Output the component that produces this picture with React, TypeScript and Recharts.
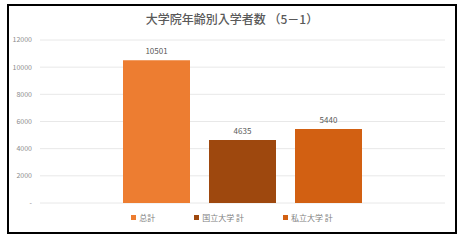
import React from "react"
import { BarChart, Bar, XAxis, YAxis, CartesianGrid, Legend, LabelList } from "recharts"

const categories = ["大学院"]
const seriesNames = ["总計", "国立大学 計", "私立大学 計"]
const seriesValues = [10501, 4635, 5440]
const seriesColors = ["#ED7D31", "#9E480E", "#D26012"]
const yTicks = [0, 2000, 4000, 6000, 8000, 10000, 12000]

const data = categories.map((name) => {
  const row: Record<string, any> = { name }
  seriesNames.forEach((s, i) => {
    row[s] = seriesValues[i]
  })
  return row
})

const FONT = '"Noto Sans CJK JP", "Noto Sans", sans-serif'

// legend keeps a fixed height so the plot bottom stays put
function LegendContent() {
  return (
    <div
      style={{
        display: "flex",
        justifyContent: "center",
        alignItems: "center",
        gap: 39,
        height: 12,
        fontFamily: FONT,
        fontSize: 8,
        color: "#7f7f7f",
      }}
    >
      {seriesNames.map((s, i) => (
        <div key={s} style={{ display: "flex", alignItems: "center" }}>
          <span style={{ width: 5, height: 5, background: seriesColors[i], marginRight: 3 }} />
          <span>{s}</span>
        </div>
      ))}
    </div>
  )
}

export default function App() {
  return (
    <div style={{ position: "absolute", left: 0, top: 0, width: 464, height: 240, background: "#fff" }}>
      <div
        style={{
          position: "absolute",
          left: 7,
          top: 4,
          width: 450,
          height: 230,
          border: "2px solid #000",
          boxSizing: "border-box",
        }}
      />
      <div
        style={{
          position: "absolute",
          left: 0,
          top: 10,
          width: 464,
          textAlign: "center",
          fontFamily: FONT,
          fontSize: 12,
          fontWeight: 500,
          color: "#595959",
        }}
      >
        大学院年齢別入学者数 （5－1）
      </div>
      <BarChart
        width={464}
        height={240}
        data={data}
        margin={{ top: 40, right: 19, left: 10, bottom: 25 }}
        barSize={67}
        barGap={19}
        style={{ position: "absolute", left: 0, top: 0 }}
      >
        <CartesianGrid vertical={false} stroke="#e8e8e8" />
        <XAxis dataKey="name" height={0} tick={false} tickLine={false} axisLine={{ stroke: "#d9d9d9" }} />
        <YAxis
          width={30}
          domain={[0, 12000]}
          ticks={yTicks}
          interval={0}
          axisLine={false}
          tickLine={false}
          tickFormatter={(v: number) => (v === 0 ? "-" : String(v))}
          tick={{ fontSize: 7, fill: "#8c8c8c", fontFamily: FONT }}
        />
        <Legend
          verticalAlign="bottom"
          height={12}
          content={<LegendContent />}
          wrapperStyle={{ left: 0, width: 464, top: 211 }}
        />
        {seriesNames.map((s, i) => (
          <Bar key={s} dataKey={s} fill={seriesColors[i]} isAnimationActive={false}>
            <LabelList
              dataKey={s}
              position="top"
              offset={6}
              style={{ fontSize: 8, fill: "#595959", fontFamily: FONT }}
            />
          </Bar>
        ))}
      </BarChart>
    </div>
  )
}
